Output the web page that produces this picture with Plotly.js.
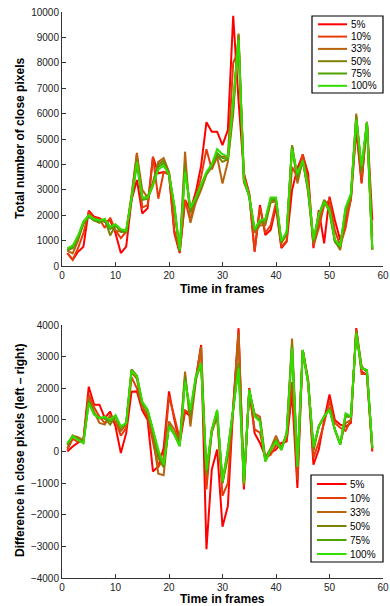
<!DOCTYPE html>
<html><head><meta charset="utf-8">
<script src="https://cdn.plot.ly/plotly-3.0.1.min.js"></script>
<style>html,body{margin:0;padding:0;background:#fff}#chart{width:390px;height:606px}</style>
</head><body><div id="chart"></div>
<script>
const frames = Array.from({length: 58}, (_, i) => i + 1);
const seriesNames = ['5%', '10%', '33%', '50%', '75%', '100%'];
const seriesColors = ['#ff0000', '#e63c0a', '#b8640f', '#7d8000', '#4ea300', '#33dd00'];

// Top: total number of close pixels
const top5 = [510, 240, 560, 760, 2180, 1940, 1880, 1750, 1800, 1290, 510, 760, 2600, 3390, 2070, 2270, 4300, 3650, 3700, 3650, 1290, 510, 2600, 2200, 2900, 3940, 5660, 5290, 5290, 4760, 5350, 9850, 6500, 3650, 2860, 560, 2400, 1220, 1420, 2330, 700, 960, 2990, 3850, 4370, 3650, 700, 2200, 890, 2730, 1810, 1020, 1750, 2600, 5350, 3250, 5680, 1810];
const top10 = [500, 250, 700, 1300, 2100, 1900, 1850, 1500, 1900, 1400, 1100, 1350, 2800, 4450, 2300, 2400, 4300, 2650, 3700, 3600, 1400, 550, 2600, 1750, 2700, 3500, 4600, 3800, 4300, 4300, 4300, 8000, 8500, 3600, 2800, 600, 2300, 1300, 1600, 2500, 750, 1000, 3900, 3500, 4400, 3400, 800, 1500, 2400, 2600, 1400, 800, 1500, 2700, 5600, 3300, 5650, 1200];
const top33 = [600, 500, 1000, 1700, 1950, 1800, 1750, 1750, 1550, 1400, 1350, 1350, 2700, 4400, 3000, 2700, 3300, 4100, 4250, 3700, 2200, 600, 4500, 1700, 2500, 3000, 3600, 3900, 4300, 3250, 4100, 6000, 9150, 3300, 2800, 1300, 1600, 1600, 2500, 2550, 900, 1250, 4750, 3250, 4200, 2900, 900, 1800, 2600, 2300, 1000, 630, 2000, 2650, 6000, 3600, 5650, 650];
const top50 = [620, 700, 1100, 1650, 1950, 1800, 1700, 1850, 1200, 1600, 1350, 1350, 2600, 4200, 2700, 2700, 3250, 4000, 4150, 3650, 2300, 600, 4000, 2100, 2600, 3100, 3650, 3900, 4350, 4100, 4200, 6200, 9100, 3350, 2750, 1400, 1700, 1700, 2600, 2600, 950, 1300, 4750, 3400, 4150, 3000, 950, 2000, 2600, 2100, 950, 700, 2200, 2750, 5900, 3700, 5650, 650];
const top75 = [650, 750, 1150, 1700, 1950, 1800, 1750, 1800, 1450, 1600, 1400, 1350, 2650, 4000, 2600, 2650, 3150, 3900, 4050, 3600, 2350, 600, 3800, 2250, 2650, 3150, 3650, 3950, 4450, 4250, 4200, 6400, 9000, 3400, 2700, 1400, 1750, 1800, 2650, 2650, 950, 1300, 4700, 3550, 4100, 3050, 1000, 2000, 2550, 2150, 1000, 750, 2250, 2800, 5800, 3850, 5650, 650];
const top100 = [700, 800, 1200, 1750, 2000, 1850, 1800, 1850, 1550, 1650, 1450, 1400, 2700, 4100, 2700, 2700, 3200, 3800, 3950, 3600, 2400, 650, 3700, 2300, 2700, 3200, 3700, 4000, 4600, 4400, 4300, 6500, 8900, 3450, 2750, 1450, 1800, 1850, 2700, 2700, 1000, 1350, 4600, 3650, 4150, 3100, 1050, 2050, 2500, 2200, 1050, 780, 2300, 2850, 5750, 3950, 5650, 700];

// Bottom: difference in close pixels (left - right)
const bot5 = [0, 160, 280, 370, 2050, 1480, 1480, 1060, 1260, 790, -50, 580, 1890, 1900, 1300, 1000, -630, -470, 110, 1900, 1000, 270, 1260, 1110, 2270, 3370, -3090, -570, 60, -2380, -1730, 1400, 3900, -1200, 2010, 580, 270, -150, -40, 60, 270, 320, 1850, -1150, 3210, 2160, -420, 60, 1000, 1800, 1000, 850, 790, 900, 3900, 2530, 2420, 0];
const bot10 = [50, 400, 300, 350, 1800, 1400, 1100, 900, 1100, 950, 500, 750, 2350, 2000, 1400, 1100, 300, -500, -200, 1750, 1100, 400, 1300, 1200, 2300, 3300, -1200, 700, 1100, -1400, -1000, 1300, 3800, -1100, 1900, 700, 600, -200, -100, 200, 150, 400, 2200, -900, 3200, 2300, -200, 300, 900, 1600, 900, 750, 650, 1000, 3850, 2450, 2450, 50];
const bot33 = [100, 500, 450, 350, 1700, 1250, 900, 850, 1150, 950, 650, 850, 2500, 2300, 1400, 1200, 500, -700, -750, 950, 700, 300, 2530, 790, 2200, 3300, -800, 600, 1100, -1000, -200, 1300, 3700, -1000, 1900, 1200, 1100, -200, 100, 500, 100, 550, 3570, -500, 3200, 2250, 0, 800, 1100, 1400, 700, 250, 900, 1000, 3850, 2700, 2500, 100];
const bot50 = [200, 500, 400, 300, 1600, 1200, 1050, 1050, 850, 1100, 750, 900, 2600, 2400, 1500, 1300, 650, -200, -500, 850, 550, 200, 2400, 1100, 2300, 2750, -700, 650, 1250, -1000, 0, 1300, 2800, -1000, 1950, 1150, 1000, -300, 50, 380, 50, 580, 3400, -480, 3200, 2200, 100, 800, 1100, 1350, 700, 220, 1100, 1100, 3750, 2650, 2550, 120];
const bot75 = [230, 490, 380, 280, 1560, 1180, 1050, 1080, 950, 1130, 770, 900, 2570, 2390, 1550, 1310, 680, -50, -450, 820, 540, 180, 2300, 1200, 2340, 2770, -630, 680, 1300, -970, 40, 1310, 2700, -1000, 1950, 1130, 970, -310, 55, 340, 55, 580, 3320, -470, 3200, 2180, 130, 790, 1110, 1330, 690, 220, 1160, 1110, 3740, 2640, 2570, 130];
const bot100 = [270, 480, 370, 260, 1530, 1160, 1060, 1100, 1000, 1150, 790, 900, 2550, 2380, 1580, 1320, 690, 60, -410, 790, 530, 160, 2210, 1320, 2370, 2790, -580, 690, 1320, -950, 60, 1320, 2630, -990, 1950, 1110, 950, -310, 60, 320, 60, 580, 3260, -470, 3210, 2160, 160, 790, 1110, 1320, 690, 220, 1210, 1110, 3740, 2630, 2580, 130];

const topSeries = [top5, top10, top33, top50, top75, top100];
const botSeries = [bot5, bot10, bot33, bot50, bot75, bot100];

const W = 390, H = 606;
const M = {l: 62, r: 7, t: 12, b: 28};
const PW = W - M.l - M.r, PH = H - M.t - M.b;
const px = v => (v - M.l) / PW;          // pixel x -> paper x
const py = v => (H - M.b - v) / PH;      // pixel y -> paper y

const FONT = 'Liberation Sans, Arial, Helvetica, sans-serif';
const traces = [];
topSeries.forEach((ys, i) => traces.push({
  x: frames, y: ys, type: 'scatter', mode: 'lines', name: seriesNames[i],
  line: {color: seriesColors[i], width: 2}, xaxis: 'x', yaxis: 'y', showlegend: false
}));
botSeries.forEach((ys, i) => traces.push({
  x: frames, y: ys, type: 'scatter', mode: 'lines', name: seriesNames[i],
  line: {color: seriesColors[i], width: 2}, xaxis: 'x2', yaxis: 'y2', showlegend: false
}));

const axBase = {
  showgrid: false, zeroline: false, showline: true, linecolor: '#333', linewidth: 1,
  ticks: 'inside', ticklen: 4, tickcolor: '#333', mirror: false,
  tickformat: 'd',
  tickfont: {family: FONT, size: 10, color: '#222'}
};
const titleFont = {family: FONT, size: 12, color: '#000', weight: 'bold'};

const shapes = [];
const annotations = [];
function addTitle(text, x, y, angle) {
  annotations.push({text: text, xref: 'paper', yref: 'paper', x: px(x), y: py(y),
    xanchor: 'center', yanchor: 'middle', showarrow: false, textangle: angle,
    font: titleFont});
}
addTitle('Time in frames', 222, 289, 0);
addTitle('Time in frames', 222, 599, 0);
addTitle('Total number of close pixels', 20, 139, -90);
addTitle('Difference in close pixels (left \u2013 right)', 20, 451, -90);

function addLegend(box, firstY, step, lineX0, lineX1, textX) {
  shapes.push({type: 'rect', xref: 'paper', yref: 'paper',
    x0: px(box[0]), x1: px(box[2]), y0: py(box[1]), y1: py(box[3]),
    line: {color: '#000', width: 1.2}, fillcolor: '#fff', layer: 'above'});
  seriesNames.forEach((nm, i) => {
    const yy = firstY + i * step;
    shapes.push({type: 'line', xref: 'paper', yref: 'paper',
      x0: px(lineX0), x1: px(lineX1), y0: py(yy), y1: py(yy),
      line: {color: seriesColors[i], width: 2}, layer: 'above'});
    annotations.push({text: nm, xref: 'paper', yref: 'paper', x: px(textX), y: py(yy),
      xanchor: 'left', yanchor: 'middle', showarrow: false,
      font: {family: FONT, size: 10, color: '#000'}});
  });
}
addLegend([312, 16, 383, 93], 24.3, 12.3, 318, 347, 349);
addLegend([311, 475, 383, 562], 484, 14, 317, 346.5, 348);

const layout = {
  width: W, height: H,
  margin: M,
  paper_bgcolor: '#fff', plot_bgcolor: '#fff',
  font: {family: FONT},
  showlegend: false,
  xaxis: Object.assign({}, axBase, {anchor: 'y', domain: [0, 1], range: [0, 60], dtick: 10}),
  yaxis: Object.assign({}, axBase, {anchor: 'x', domain: [py(266), 1], range: [0, 10000], dtick: 1000}),
  xaxis2: Object.assign({}, axBase, {anchor: 'y2', domain: [0, 1], range: [0, 60], dtick: 10}),
  yaxis2: Object.assign({}, axBase, {anchor: 'x2', domain: [0, py(325)], range: [-4000, 4000], dtick: 1000}),
  shapes: shapes,
  annotations: annotations
};

Plotly.newPlot('chart', traces, layout, {displayModeBar: false, staticPlot: true});
</script></body></html>
